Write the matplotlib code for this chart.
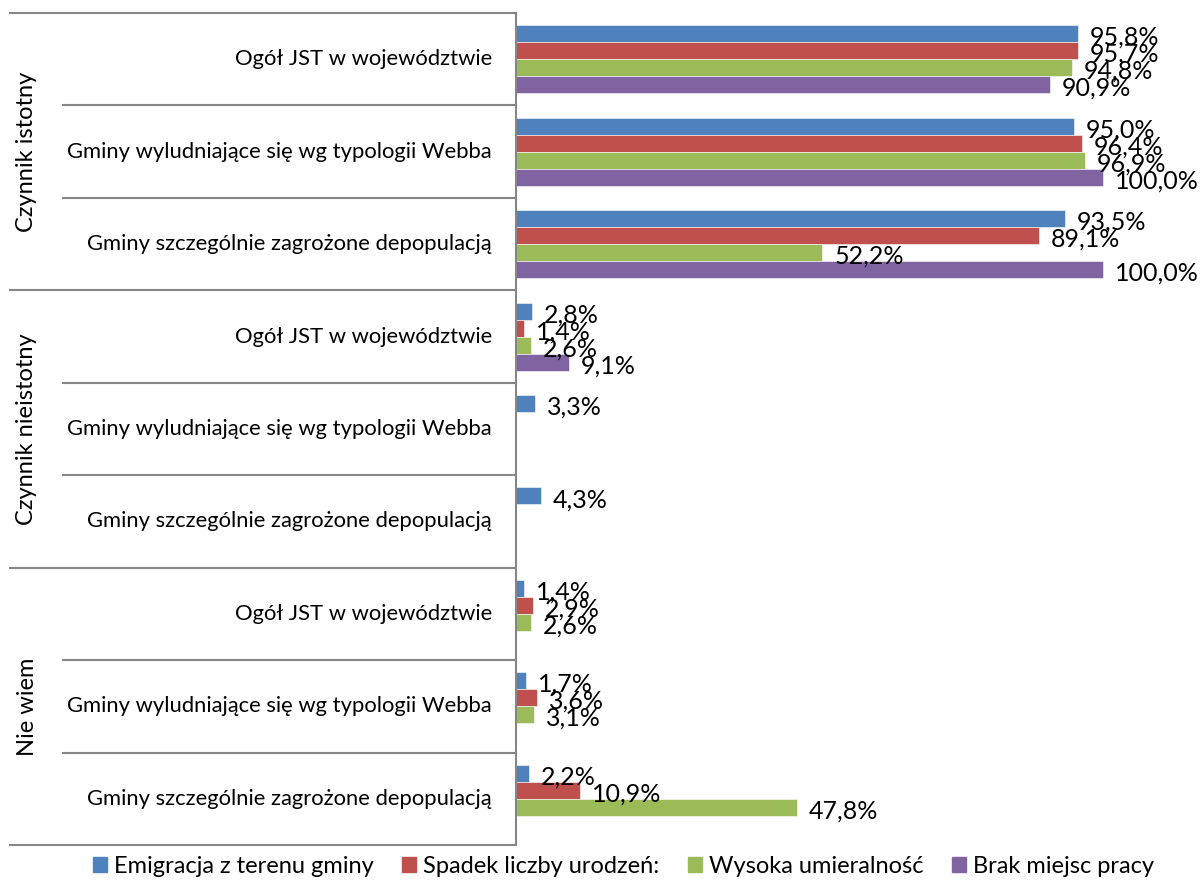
import numpy as np
import matplotlib.pyplot as plt
from matplotlib.patches import Patch

plt.rcParams['font.family'] = ['Lato', 'DejaVu Sans']

# data
groups = ["Czynnik istotny", "Czynnik nieistotny", "Nie wiem"]
categories = ["Ogół JST w województwie",
              "Gminy wyludniające się wg typologii Webba",
              "Gminy szczególnie zagrożone depopulacją"]
series = ["Emigracja z terenu gminy", "Spadek liczby urodzeń:",
          "Wysoka umieralność", "Brak miejsc pracy"]
colors = ["#4F81BD", "#C0504D", "#9BBB59", "#8064A2"]

emigracja = [95.8, 95.0, 93.5, 2.8, 3.3, 4.3, 1.4, 1.7, 2.2]
urodzenia = [95.7, 96.4, 89.1, 1.4, np.nan, np.nan, 2.9, 3.6, 10.9]
umieralnosc = [94.8, 96.9, 52.2, 2.6, np.nan, np.nan, 2.6, 3.1, 47.8]
praca = [90.9, 100.0, 100.0, 9.1, np.nan, np.nan, np.nan, np.nan, np.nan]
values = [emigracja, urodzenia, umieralnosc, praca]

#%% plot
fig = plt.figure(figsize=(12.01, 8.82), dpi=100)
ax = fig.add_axes([516/1201, 37/882, (1190-516)/1201, (845-13)/882])

n = len(groups) * len(categories)
y = np.arange(n)
h = 0.184
for j, (vals, c) in enumerate(zip(values, colors)):
    vals = np.array(vals) / 100
    pos = y + (j - 1.5) * h
    ax.barh(pos, vals, height=h, color=c, edgecolor='white', linewidth=0.4)
    for p, v in zip(pos, vals):
        if not np.isnan(v):
            ax.text(v + 0.02, p + 0.04, f"{v*100:.1f}%".replace('.', ','),
                    va='center', ha='left', fontsize=18)

ax.set_xlim(0, (1190-516)/587)
ax.set_ylim(n - 0.5, -0.5)
ax.set_xticks([])
ax.set_yticks([])
for s in ['top', 'right', 'bottom']:
    ax.spines[s].set_visible(False)
ax.spines['left'].set_color('#868686')
ax.spines['left'].set_linewidth(1.5)

# table-like category lines
line_c = '#868686'
trans = ax.get_yaxis_transform()
ax_w = (1190-516)
for b in np.arange(-0.5, n, 1.0):
    full = (b + 0.5) % 3 == 0
    x0 = (10 - 516) / ax_w if full else (63 - 516) / ax_w
    ax.plot([x0, 0], [b, b], color=line_c, lw=1.5, transform=trans, clip_on=False)

for i, c in enumerate(categories * 3):
    ax.text(-24 / ax_w, i, c, transform=trans, ha='right', va='center', fontsize=15.8)

for g, name in enumerate(groups):
    ax.text((27 - 516) / ax_w, g * 3 + 1, name, transform=trans, rotation=90,
            ha='center', va='center', fontsize=17)

handles = [Patch(color=c) for c in colors]
fig.legend(handles, series, loc='center', bbox_to_anchor=(0.519, 0.018), ncol=4,
           frameon=False, fontsize=17, handlelength=0.6, handleheight=0.6,
           handletextpad=0.3, columnspacing=1.2)

plt.savefig("out.png", dpi=100)
